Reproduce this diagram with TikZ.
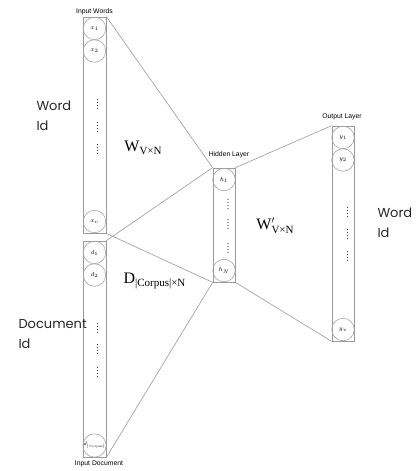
\documentclass[tikz,border=0pt]{standalone}
\usepackage{fontspec}
\newfontfamily\idfont{Poppins}
\newfontfamily\tagfont{Liberation Sans}
\newfontfamily\wfont{Liberation Serif}
\usetikzlibrary{positioning}
\definecolor{lineGray}{HTML}{9A9A9A}
\definecolor{unitGray}{HTML}{A6A6A6}
\tikzset{
  layerbox/.style={
    rectangle, draw=lineGray, line width=0.7pt, inner sep=0pt,
    minimum width=23pt,
  },
  unit/.style={
    circle, draw=unitGray, line width=0.6pt, inner sep=0pt,
    minimum size=22.5pt, font=\fontsize{5.8}{5.8}\selectfont,
  },
  wire/.style={draw=lineGray, line width=0.6pt},
  layertag/.style={font=\tagfont\fontsize{6.8}{7}\selectfont},
  idtag/.style={
    font=\idfont\fontsize{13}{20}\selectfont, align=left, anchor=west,
    text=black!85,
  },
  weight/.style={font=\wfont\fontsize{16}{16}\selectfont},
}
\newcommand{\subtag}[1]{\raisebox{-3.5pt}{\fontsize{11}{11}\selectfont #1}}

\begin{document}
\begin{tikzpicture}[x=1pt, y=-1pt]
\useasboundingbox (0,0) rectangle (417,471);

% layer columns
\node[layerbox, minimum height=216pt] (words) at (94.5,125) {};
\node[layerbox, minimum height=216pt] (docs) at (94.5,349) {};
\node[layerbox, minimum width=22pt, minimum height=114pt] (hidden) at (224,225) {};
\node[layerbox, minimum width=22pt, minimum height=215pt] (output) at (343,233.5) {};

% units
\node[unit] (x1) at (94.5,28.5) {$x_1$};
\node[unit] (x2) at (94.5,51) {$x_2$};
\node[unit] (xv) at (94.5,221.5) {$x_v$};
\node[unit] (d1) at (94.5,252.5) {$d_1$};
\node[unit] (d2) at (94.5,275) {$d_2$};
\node[unit, font=\fontsize{4.6}{4.6}\selectfont] (dc) at (94.5,445.5)
  {$d_{\mathrm{|Corpus|}}$};
\node[unit] (h1) at (224,179.5) {$h_1$};
\node[unit] (hN) at (224,270.5) {$h_N$};
\node[unit] (y1) at (343,137.5) {$y_1$};
\node[unit] (y2) at (343,160) {$y_2$};
\node[unit] (yv) at (343,329.5) {$y_v$};

% dots inside the columns
\foreach \cx/\cy in {97.5/104, 97.5/127, 97.5/149,
                     97.5/328, 97.5/349, 97.5/372,
                     228/204, 228/224, 228/248,
                     347.5/212, 347.5/234, 347.5/256}
{
  \foreach \k in {-1.5,-0.5,0.5,1.5}
    \fill[black!75] (\cx,\cy+3*\k) circle (0.65pt);
}

% connections
\draw[wire] (words.north east) -- (hidden.north west);
\draw[wire] (words.south east) -- (hidden.south west);
\draw[wire] (docs.north east) -- (hidden.north west);
\draw[wire] (docs.south east) -- (hidden.south west);
\draw[wire] (hidden.north east) -- (output.north west);
\draw[wire] (hidden.south east) -- (output.south west);

% layer titles
\node[layertag] (tagIn) at (94.5,12) {Input Words};
\node[layertag] (tagDoc) at (99,464) {Input Document};
\node[layertag] (tagHid) at (229,155) {Hidden Layer};
\node[layertag] (tagOut) at (342,117) {Output Layer};

% id labels
\node[idtag] (wordId) at (33,116) {Word\\Id};
\node[idtag] (docId) at (15,334.5) {Document\\Id};
\node[idtag] (outId) at (374,223) {Word\\Id};

% weight matrices
\node[weight] (wIn) at (143,148) {W\subtag{V×N}};
\node[weight] (dIn) at (154.5,281) {D\subtag{|Corpus|×N}};
\node[weight] (wOut) at (275,226)
  {W\rlap{\raisebox{6pt}{\fontsize{10}{10}\selectfont$\prime$}}\subtag{V×N}};

\end{tikzpicture}
\end{document}
